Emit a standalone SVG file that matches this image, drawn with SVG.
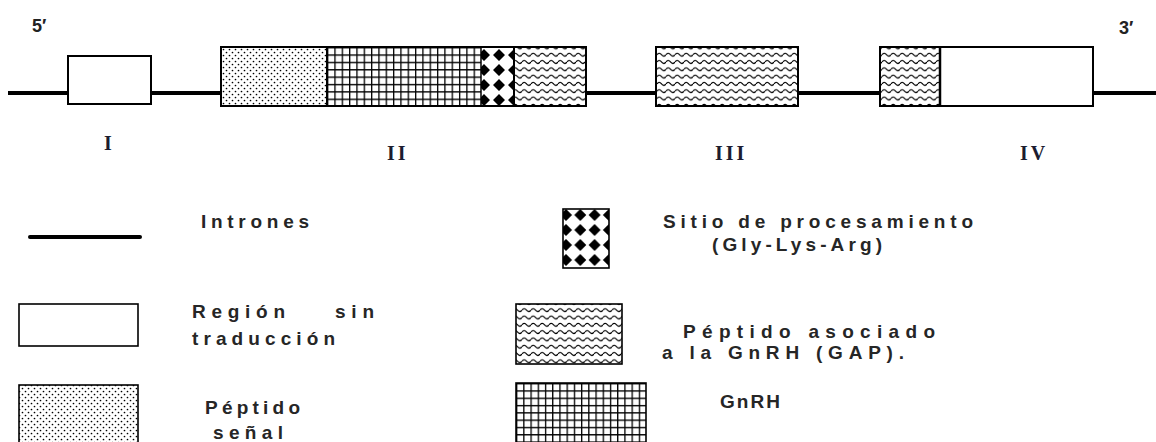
<svg xmlns="http://www.w3.org/2000/svg" width="1156" height="442" viewBox="0 0 1156 442">
<style>
.box{stroke:#000;stroke-width:2;}
.lbl{font-family:"Liberation Sans",Arial,sans-serif;font-size:19px;font-weight:bold;fill:#262626;}
.rom{font-family:"Liberation Serif","Times New Roman",serif;font-size:20px;font-weight:bold;fill:#1c1c30;letter-spacing:3px;}
.end{font-family:"Liberation Sans",Arial,sans-serif;font-size:18px;font-weight:bold;fill:#222;}
.intron{stroke:#000;stroke-width:4;fill:none;}
</style>
<defs>
<pattern id="dots" patternUnits="userSpaceOnUse" width="6" height="6">
<rect width="6" height="6" fill="#fff"/>
<circle cx="1.5" cy="1.5" r="0.85" fill="#000"/>
<circle cx="4.5" cy="4.5" r="0.85" fill="#000"/>
</pattern>
<pattern id="gridA" patternUnits="userSpaceOnUse" x="327" y="47" width="7.33" height="7.37">
<rect width="7.33" height="7.37" fill="#fff"/>
<path d="M0,0V7.37M0,0H7.33" stroke="#000" stroke-width="2.6"/>
</pattern>
<pattern id="gridB" patternUnits="userSpaceOnUse" x="516" y="383" width="7.22" height="7.3">
<rect width="7.22" height="7.3" fill="#fff"/>
<path d="M0,0V7.3M0,0H7.22" stroke="#000" stroke-width="2.6"/>
</pattern>
<pattern id="diamA" patternUnits="userSpaceOnUse" x="484" y="55" width="15" height="15">
<rect width="15" height="15" fill="#fff"/>
<path d="M0,-6L6,0L0,6L-6,0Z M15,-6L21,0L15,6L9,0Z M0,9L6,15L0,21L-6,15Z M15,9L21,15L15,21L9,15Z" fill="#000"/>
</pattern>
<pattern id="diamB" patternUnits="userSpaceOnUse" x="566" y="215" width="14.3" height="15">
<rect width="14.3" height="15" fill="#fff"/>
<path d="M0,-6L6,0L0,6L-6,0Z M14.3,-6L20.3,0L14.3,6L8.3,0Z M0,9L6,15L0,21L-6,15Z M14.3,9L20.3,15L14.3,21L8.3,15Z" fill="#000"/>
</pattern>
<pattern id="wave" patternUnits="userSpaceOnUse" width="9" height="7.3">
<rect width="9" height="7.3" fill="#fff"/>
<path d="M0,3.6 Q2.25,0.8 4.5,3.6 T9,3.6" stroke="#000" stroke-width="1.25" fill="none"/>
</pattern>
</defs>

<g id="connectors">
<line class="intron" x1="8" y1="93" x2="1156" y2="93"/>
</g>

<g id="labels-ends">
<text class="end" x="32" y="32">5′</text>
<text class="end" x="1119" y="34">3′</text>
</g>

<g id="exon-I">
<rect class="box" x="68" y="56" width="83" height="48" fill="#fff" stroke-width="1.6"/>
<text class="rom" x="104" y="150">I</text>
</g>

<g id="exon-II">
<rect x="221" y="47" width="106" height="59" fill="url(#dots)"/>
<rect x="327" y="47" width="154" height="59" fill="url(#gridA)"/>
<rect x="481" y="47" width="33" height="59" fill="url(#diamA)"/>
<rect x="514" y="47" width="72" height="59" fill="url(#wave)"/>
<line x1="327" y1="47" x2="327" y2="106" stroke="#000" stroke-width="2"/>
<line x1="481" y1="47" x2="481" y2="106" stroke="#000" stroke-width="1.5"/>
<line x1="514" y1="47" x2="514" y2="106" stroke="#000" stroke-width="2"/>
<rect class="box" x="221" y="47" width="365" height="59" fill="none"/>
<text class="rom" x="387" y="160">II</text>
</g>

<g id="exon-III">
<rect class="box" x="656" y="47" width="142" height="59" fill="url(#wave)"/>
<text class="rom" x="715" y="160">III</text>
</g>

<g id="exon-IV">
<rect x="880" y="47" width="60" height="59" fill="url(#wave)"/>
<rect x="940" y="47" width="153" height="59" fill="#fff"/>
<line x1="940" y1="47" x2="940" y2="106" stroke="#000" stroke-width="2.5"/>
<rect class="box" x="880" y="47" width="213" height="59" fill="none"/>
<text class="rom" x="1020" y="160">IV</text>
</g>

<g id="legend-intrones">
<line x1="30" y1="237" x2="140" y2="237" stroke="#000" stroke-width="4" stroke-linecap="round"/>
<text class="lbl" x="201" y="228" textLength="108" lengthAdjust="spacing">Intrones</text>
</g>

<g id="legend-region">
<rect x="19" y="304" width="119" height="42" fill="#fff" stroke="#000" stroke-width="1.6"/>
<text class="lbl" x="192" y="318" textLength="93" lengthAdjust="spacing">Región</text>
<text class="lbl" x="335" y="318" textLength="39" lengthAdjust="spacing">sin</text>
<text class="lbl" x="192" y="345" textLength="143" lengthAdjust="spacing">traducción</text>
</g>

<g id="legend-senal">
<rect x="19" y="385" width="119" height="62" fill="url(#dots)" stroke="#000" stroke-width="1.6"/>
<text class="lbl" x="205" y="414" textLength="95" lengthAdjust="spacing">Péptido</text>
<text class="lbl" x="213" y="439" textLength="70" lengthAdjust="spacing">señal</text>
</g>

<g id="legend-sitio">
<rect x="563" y="209" width="46" height="59" fill="url(#diamB)" stroke="#000" stroke-width="1.6"/>
<text class="lbl" x="663" y="228" textLength="310" lengthAdjust="spacing">Sitio de procesamiento</text>
<text class="lbl" x="712" y="251" textLength="170" lengthAdjust="spacing">(Gly-Lys-Arg)</text>
</g>

<g id="legend-gap">
<rect x="516" y="304" width="106" height="60" fill="url(#wave)" stroke="#000" stroke-width="1.6"/>
<text class="lbl" x="683" y="338" textLength="252" lengthAdjust="spacing">Péptido asociado</text>
<text class="lbl" x="662" y="359" textLength="242" lengthAdjust="spacing">a la GnRH (GAP).</text>
</g>

<g id="legend-gnrh">
<rect x="516" y="383" width="130" height="64" fill="url(#gridB)" stroke="#000" stroke-width="1.6"/>
<text class="lbl" x="720" y="408" textLength="60" lengthAdjust="spacing">GnRH</text>
</g>
</svg>
